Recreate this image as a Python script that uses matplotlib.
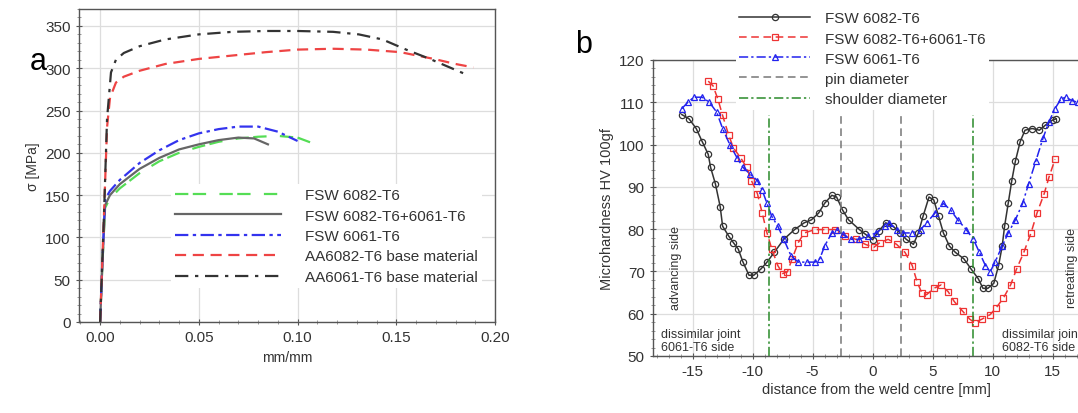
import matplotlib
matplotlib.use("Agg")
import matplotlib.pyplot as plt
from matplotlib.ticker import MultipleLocator

plt.rcParams['font.family'] = ['Liberation Sans', 'DejaVu Sans']
plt.rcParams['axes.unicode_minus'] = False

# ---- panel a: stress-strain curves ----
fsw6082_x = [0, 0.001, 0.0025, 0.005, 0.01, 0.02, 0.03, 0.04, 0.05, 0.06, 0.07, 0.08, 0.09, 0.10, 0.108]
fsw6082_y = [0, 60, 135, 146, 158, 176, 190, 200, 207, 213, 217, 219, 220, 218, 211]

fswmix_x = [0, 0.001, 0.0025, 0.005, 0.01, 0.02, 0.03, 0.04, 0.05, 0.06, 0.07, 0.078, 0.085]
fswmix_y = [0, 60, 138, 150, 163, 181, 194, 204, 210, 215, 218, 217, 210]

fsw6061_x = [0, 0.001, 0.0025, 0.005, 0.01, 0.02, 0.03, 0.04, 0.05, 0.06, 0.07, 0.08, 0.09, 0.10]
fsw6061_y = [0, 65, 145, 155, 168, 188, 203, 215, 223, 228, 231, 231, 225, 214]

aa6082_x = [0, 0.002, 0.0035, 0.005, 0.008, 0.012, 0.02, 0.033, 0.05, 0.067, 0.084, 0.10, 0.118, 0.135, 0.152, 0.169, 0.18, 0.189]
aa6082_y = [0, 130, 230, 265, 283, 290, 297, 305, 311, 315, 319, 322, 323, 322, 319, 311, 305, 301]

aa6061_x = [0, 0.002, 0.0035, 0.0055, 0.008, 0.012, 0.02, 0.033, 0.05, 0.067, 0.084, 0.10, 0.118, 0.131, 0.143, 0.155, 0.167, 0.177, 0.185]
aa6061_y = [0, 130, 240, 295, 310, 318, 326, 334, 340, 343, 344, 344, 343, 340, 334, 322, 311, 301, 293]

# ---- panel b: microhardness profiles ----
hv6082_x = [-15.9, -15.3, -14.7, -14.2, -13.7, -13.5, -13.1, -12.7, -12.5, -12.0, -11.6, -11.2, -10.8, -10.3,
            -9.9, -9.3, -8.8, -8.2, -7.4, -6.5, -5.7, -5.1, -4.5, -4.0, -3.4, -3.0, -2.5, -2.0, -1.1, -0.6,
            0.0, 0.5, 1.1, 1.7, 2.3, 2.8, 3.4, 3.8, 4.2, 4.7, 5.1, 5.5, 5.9, 6.4, 6.9, 7.6, 8.2, 8.8, 9.2,
            9.6, 10.1, 10.5, 10.8, 11.0, 11.3, 11.6, 11.9, 12.3, 12.7, 13.3, 13.9, 14.4, 15.0, 15.3]
hv6082_y = [107.1, 106.1, 103.8, 100.7, 97.7, 94.6, 90.7, 85.3, 80.7, 78.4, 76.8, 75.3, 72.2, 69.1,
            69.1, 70.6, 72.2, 74.5, 77.6, 79.9, 81.5, 82.2, 83.8, 86.1, 88.0, 87.6, 84.5, 82.2, 79.9, 78.8,
            77.5, 79.5, 81.5, 80.7, 79.1, 77.6, 76.4, 79.0, 83.0, 87.6, 86.9, 83.0, 79.1, 76.0, 74.5, 73.0, 70.6, 68.3, 66.0,
            66.0, 67.2, 71.4, 76.0, 80.7, 86.1, 91.5, 96.1, 100.7, 103.4, 103.8, 103.4, 104.6, 105.8, 106.1]

hvmix_x = [-13.7, -13.3, -12.9, -12.5, -12.0, -11.6, -11.0, -10.5, -10.1, -9.6, -9.2, -8.8, -8.4, -7.9,
           -7.5, -7.1, -6.7, -6.2, -5.7, -4.8, -4.0, -3.1, -2.3, -1.4, -0.6, 0.1, 0.6, 1.3, 2.0, 2.7,
           3.3, 3.7, 4.1, 4.5, 5.1, 5.7, 6.3, 6.8, 7.5, 8.1, 8.5, 9.1, 9.8, 10.3, 10.9, 11.5, 12.0,
           12.6, 13.2, 13.7, 14.3, 14.7, 15.2]
hvmix_y = [115.0, 113.9, 110.8, 106.9, 102.3, 99.2, 96.9, 94.6, 91.5, 88.4, 83.8, 79.1, 75.3, 71.4,
           69.5, 69.9, 73.0, 76.8, 79.1, 79.9, 79.9, 79.9, 78.4, 77.6, 76.4, 75.7, 76.8, 77.6, 76.4, 74.5,
           71.4, 67.6, 64.9, 64.5, 66.0, 66.8, 65.2, 62.9, 60.6, 58.7, 57.9, 58.7, 59.8, 61.4, 63.7, 66.8, 70.6,
           74.5, 79.1, 83.8, 88.4, 92.3, 96.5]

hv6061_x = [-15.9, -15.4, -14.9, -14.2, -13.6, -13.0, -12.5, -11.9, -11.3, -10.8, -10.2, -9.6, -9.2, -8.8,
            -8.4, -7.9, -7.4, -6.8, -6.2, -5.5, -4.8, -4.4, -4.0, -3.4, -3.0, -2.5, -1.8, -1.1, -0.4, 0.3,
            1.0, 1.4, 2.0, 2.5, 3.3, 4.0, 4.5, 5.2, 5.9, 6.5, 7.1, 7.8, 8.4, 8.9, 9.4, 9.8, 10.2, 10.8,
            11.3, 11.9, 12.5, 13.0, 13.6, 14.2, 14.7, 15.2, 15.7, 16.1, 16.6, 17.1]
hv6061_y = [108.5, 110.0, 111.2, 111.2, 110.0, 107.7, 103.8, 100.0, 96.9, 94.6, 93.0, 91.5, 89.2, 86.1,
            83.0, 80.7, 77.6, 73.7, 72.2, 72.2, 72.2, 73.0, 76.0, 79.1, 79.9, 78.8, 77.6, 77.6, 78.4, 79.1,
            80.7, 81.5, 79.9, 79.1, 79.1, 79.9, 81.5, 83.8, 86.1, 84.5, 82.2, 79.9, 77.6, 74.5, 71.4, 69.9, 72.2, 76.0,
            79.1, 82.2, 86.1, 90.7, 96.1, 101.5, 105.4, 108.5, 110.8, 111.2, 110.4, 110.0]

pin_x = [-2.6, 2.4]
shoulder_x = [-8.6, 8.4]

fig = plt.figure(figsize=(10.78, 4.14), dpi=100)

axc = '#555555'
gridc = '#dddddd'

def style_axes(ax):
    for s in ax.spines.values():
        s.set_color(axc)
        s.set_linewidth(1.0)
    ax.grid(True, which='major', color=gridc, linewidth=0.9)
    ax.set_axisbelow(True)
    ax.tick_params(which='major', direction='inout', length=5, color=axc,
                   labelsize=11, labelcolor='#333333')
    ax.tick_params(which='minor', direction='inout', length=3, color='#888888')

# panel a
ax1 = fig.add_axes([79 / 1078, 91 / 414, 416 / 1078, 313 / 414])
style_axes(ax1)
ax1.plot(fsw6082_x, fsw6082_y, color='#55dd55', lw=1.6, ls=(0, (6, 2, 6, 6)), label='FSW 6082-T6')
ax1.plot(fswmix_x, fswmix_y, color='#666666', lw=1.6, ls='-', label='FSW 6082-T6+6061-T6')
ax1.plot(fsw6061_x, fsw6061_y, color='#3333ee', lw=1.6, ls=(0, (6, 2, 1.5, 2)), label='FSW 6061-T6')
ax1.plot(aa6082_x, aa6082_y, color='#ee4444', lw=1.6, ls=(0, (5, 3)), label='AA6082-T6 base material')
ax1.plot(aa6061_x, aa6061_y, color='#333333', lw=1.6, ls=(0, (6, 3, 1.5, 3)), label='AA6061-T6 base material')
ax1.set_xlim(-0.0107, 0.2)
ax1.set_ylim(0, 370)
ax1.xaxis.set_major_locator(MultipleLocator(0.05))
ax1.xaxis.set_minor_locator(MultipleLocator(0.01))
ax1.yaxis.set_major_locator(MultipleLocator(50))
ax1.yaxis.set_minor_locator(MultipleLocator(10))
ax1.xaxis.set_major_formatter(lambda v, p: f"{v:.2f}")
ax1.set_xlabel('mm/mm', fontsize=10, color='#333333')
ax1.set_ylabel('σ [MPa]', fontsize=10, color='#333333', labelpad=4)
leg1 = ax1.legend(loc='upper left', bbox_to_anchor=(163 / 1078, 1 - 177 / 414),
                  bbox_transform=fig.transFigure, fontsize=11, handlelength=6.9,
                  handletextpad=1.6, labelspacing=0.42, borderpad=0.3,
                  frameon=True, fancybox=False)
leg1.get_frame().set_edgecolor('none')
leg1.get_frame().set_facecolor('white')
leg1.get_frame().set_alpha(1)
for t in leg1.get_texts():
    t.set_color('#333333')
fig.text(30 / 1078, 1 - 62 / 414, 'a', fontsize=22, va='center', ha='left')

# panel b
ax2 = fig.add_axes([653 / 1078, 57 / 414, 447.6 / 1078, 296 / 414])
style_axes(ax2)
mk = dict(markersize=4.5, markerfacecolor='none', markeredgewidth=0.9)
ax2.plot(hv6082_x, hv6082_y, color='#333333', lw=1.1, ls='-', marker='o', label='FSW 6082-T6', **mk)
ax2.plot(hvmix_x, hvmix_y, color='#ee3333', lw=1.1, ls=(0, (5, 3)), marker='s', label='FSW 6082-T6+6061-T6', **mk)
ax2.plot(hv6061_x, hv6061_y, color='#2222ee', lw=1.1, ls=(0, (6, 2, 1.5, 2)), marker='^', label='FSW 6061-T6', **mk)
for i, xv in enumerate(pin_x):
    ax2.plot([xv, xv], [50, 107], color='#777777', lw=1.1, ls=(0, (5, 3)),
             label='pin diameter' if i == 0 else None)
for i, xv in enumerate(shoulder_x):
    ax2.plot([xv, xv], [50, 107], color='#2a8a2a', lw=1.1, ls=(0, (6, 2, 1.5, 2)),
             label='shoulder diameter' if i == 0 else None)
ax2.set_xlim(-18.3, 19)
ax2.set_ylim(50, 120)
ax2.xaxis.set_major_locator(MultipleLocator(5))
ax2.xaxis.set_minor_locator(MultipleLocator(1))
ax2.yaxis.set_major_locator(MultipleLocator(10))
ax2.yaxis.set_minor_locator(MultipleLocator(2))
ax2.set_xlabel('distance from the weld centre [mm]', fontsize=10.5, color='#333333', labelpad=3)
ax2.set_ylabel('Microhardness HV 100gf', fontsize=10.5, color='#333333')
ax2.text(-16.4, 71, 'advancing side', rotation=90, fontsize=9, color='#333333', ha='center', va='center')
ax2.text(16.6, 71, 'retreating side', rotation=90, fontsize=9, color='#333333', ha='center', va='center')
ax2.text(-17.6, 50.8, 'dissimilar joint\n6061-T6 side', fontsize=9, color='#333333', ha='left', va='bottom',
         linespacing=1.1)
ax2.text(10.8, 50.8, 'dissimilar joint\n6082-T6 side', fontsize=9, color='#333333', ha='left', va='bottom',
         linespacing=1.1)
leg2 = ax2.legend(loc='upper left', bbox_to_anchor=(728 / 1078, 1 - 1 / 414),
                  bbox_transform=fig.transFigure, fontsize=11, handlelength=4.6,
                  handletextpad=1.0, labelspacing=0.4, borderpad=0.25,
                  frameon=True, fancybox=False)
leg2.get_frame().set_edgecolor('none')
leg2.get_frame().set_facecolor('white')
leg2.get_frame().set_alpha(1)
for t in leg2.get_texts():
    t.set_color('#333333')
fig.text(575 / 1078, 1 - 45 / 414, 'b', fontsize=22, va='center', ha='left')

fig.savefig('out.png', dpi=100)
